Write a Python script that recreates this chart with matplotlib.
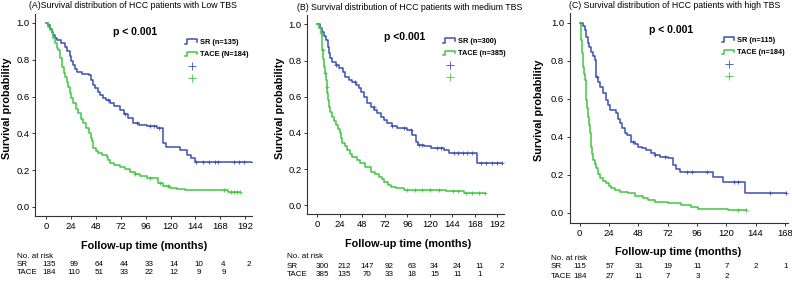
import numpy as np
import matplotlib.pyplot as plt
from matplotlib.lines import Line2D
from matplotlib.legend_handler import HandlerBase
import matplotlib.transforms as mtransforms

plt.rcParams['font.family'] = ['Liberation Sans', 'DejaVu Sans']

W, H = 792, 281
BLUE = '#3b50b8'
GREEN = '#40c840'

# ---------------- data ----------------
# panel A - low TBS
a_sr_time = [0, 2, 4, 5.5, 7, 8.7, 11, 14, 18, 20, 23, 24.5, 26, 28, 30, 35, 41, 43, 45, 47, 50, 52, 55,
             58, 62, 66, 71, 75, 79, 84, 90, 97, 107, 113, 116, 129, 136, 140, 144, 199]
a_sr_surv = [1.0, 0.99, 0.97, 0.95, 0.935, 0.92, 0.905, 0.89, 0.87, 0.85, 0.82, 0.795, 0.77, 0.75, 0.735,
             0.725, 0.715, 0.69, 0.665, 0.645, 0.625, 0.61, 0.595, 0.58, 0.565, 0.55, 0.527, 0.505, 0.482,
             0.455, 0.445, 0.44, 0.428, 0.346, 0.328, 0.31, 0.283, 0.265, 0.245, 0.245]
a_sr_cens = [60, 76, 88, 100, 104, 109, 145, 151, 157, 163, 166, 181, 186, 191, 199]
a_tace_time = [0, 2, 4, 5.5, 7, 9, 11, 12, 13.5, 15, 17, 18.5, 20, 21.5, 23, 24.5, 26.3, 28.5, 31, 33.5,
               36, 38.5, 41, 43, 44, 45.6, 48, 50.4, 54, 58.5, 60, 61.7, 66, 71, 76, 81, 86, 90.6, 97,
               103.5, 108, 113, 119.5, 126, 134, 175.7, 187]
a_tace_surv = [1.0, 0.98, 0.96, 0.944, 0.917, 0.89, 0.865, 0.853, 0.81, 0.763, 0.73, 0.708, 0.68, 0.65,
               0.618, 0.59, 0.563, 0.535, 0.51, 0.48, 0.455, 0.43, 0.40, 0.375, 0.356, 0.32, 0.305, 0.292,
               0.283, 0.274, 0.255, 0.238, 0.23, 0.22, 0.205, 0.192, 0.178, 0.166, 0.16, 0.157, 0.13,
               0.115, 0.102, 0.097, 0.092, 0.08, 0.08]
a_tace_cens = [86, 100, 110, 118, 172, 178, 181, 184, 187]
a_risk_sr = [135, 99, 64, 44, 33, 14, 10, 4, 2]
a_risk_tace = [184, 110, 51, 33, 22, 12, 9, 9]

# panel B - medium TBS
b_sr_time = [0, 2.5, 5.3, 7, 9, 11, 12.5, 14, 16, 20, 23, 27, 30, 34, 37, 41, 44.5, 47, 50, 53, 57, 60.5,
             64, 67.6, 71, 74.7, 80, 85, 96, 101, 105, 107, 114, 121, 135, 140.5, 170.6, 197]
b_sr_surv = [1.0, 0.98, 0.959, 0.935, 0.913, 0.875, 0.84, 0.815, 0.793, 0.775, 0.757, 0.735, 0.71, 0.695,
             0.683, 0.665, 0.646, 0.625, 0.60, 0.563, 0.545, 0.527, 0.508, 0.49, 0.47, 0.453, 0.44, 0.425,
             0.416, 0.388, 0.351, 0.333, 0.325, 0.315, 0.306, 0.287, 0.235, 0.235]
b_sr_cens = [20, 40, 60, 80, 92, 100, 108, 112, 128, 132, 146, 150, 155, 160, 165, 174, 180, 186, 192, 197]
b_tace_time = [0, 2, 3.6, 4.5, 5.3, 6.2, 7.1, 8, 8.9, 9.8, 10.7, 11.6, 12.5, 14, 16, 18, 19.6, 22, 24.2,
               25.5, 26.7, 29, 32, 35, 37.3, 42, 46, 51, 57, 61, 66, 68.5, 71, 75, 78.3, 84, 89, 92.6,
               137, 156.5, 179]
b_tace_surv = [1.0, 0.98, 0.95, 0.905, 0.858, 0.81, 0.766, 0.73, 0.692, 0.655, 0.619, 0.58, 0.545, 0.515,
               0.49, 0.465, 0.444, 0.42, 0.398, 0.37, 0.343, 0.325, 0.306, 0.285, 0.269, 0.25, 0.232, 0.21,
               0.186, 0.172, 0.158, 0.145, 0.13, 0.115, 0.103, 0.097, 0.094, 0.085, 0.078, 0.066, 0.066]
b_tace_cens = [4, 6, 8, 10, 96, 104, 112, 120, 130, 145, 150, 158, 165, 172, 179]
b_risk_sr = [300, 212, 147, 92, 63, 34, 24, 11, 2]
b_risk_tace = [385, 135, 70, 33, 18, 15, 11, 1]

# panel C - high TBS
c_sr_time = [0, 2.7, 4.1, 5.5, 6.8, 8, 9.5, 11, 12.3, 13.6, 15, 16.4, 19, 21.8, 23, 24.6, 30, 31.5, 32.8,
             35, 36.9, 39, 42.3, 45, 47.7, 51, 54.5, 58, 61.4, 66, 72.3, 76.4, 79, 81.9, 109.2, 117.4,
             135.6, 169]
c_sr_surv = [1.0, 0.985, 0.962, 0.925, 0.892, 0.87, 0.847, 0.825, 0.804, 0.716, 0.69, 0.663, 0.63, 0.593,
             0.565, 0.54, 0.523, 0.495, 0.47, 0.445, 0.418, 0.408, 0.374, 0.36, 0.347, 0.338, 0.33, 0.315,
             0.304, 0.295, 0.286, 0.251, 0.232, 0.216, 0.19, 0.163, 0.105, 0.105]
c_sr_cens = [14, 44, 62, 70, 88, 92, 104, 126, 130, 156, 169]
c_tace_time = [0, 0.8, 1.3, 2, 2.7, 3.4, 4.1, 4.8, 5.4, 6.1, 6.8, 7.5, 8.2, 9, 10, 10.9, 12.2, 13.6, 15,
               16.4, 19, 21.8, 24, 25.9, 29, 32.8, 39.6, 45, 51.8, 56, 61.4, 72, 83.2, 91.4, 96.9, 121.5,
               136.5]
c_tace_surv = [1.0, 0.95, 0.909, 0.84, 0.768, 0.73, 0.698, 0.645, 0.593, 0.55, 0.505, 0.46, 0.418, 0.347,
               0.31, 0.277, 0.255, 0.234, 0.205, 0.181, 0.168, 0.155, 0.14, 0.128, 0.12, 0.11, 0.102, 0.09,
               0.076, 0.068, 0.058, 0.05, 0.04, 0.032, 0.02, 0.014, 0.014]
c_tace_cens = [130, 136]
c_risk_sr = [115, 57, 31, 19, 11, 7, 2, 1]
c_risk_tace = [184, 27, 11, 7, 3, 2]

titles = ['(A)Survival distribution of HCC patients with Low TBS',
          '(B) Survival distribution of HCC patients with medium TBS',
          '(C) Survival distribution of HCC patients with high TBS']
pvals = ['p < 0.001', 'p <0.001', 'p < 0.001']
sr_labels = ['SR (n=135)', 'SR (n=300)', 'SR (n=115)']
tace_labels = ['TACE (N=184)', 'TACE (n=385)', 'TACE (n=184)']


class StepHandler(HandlerBase):
    # little step glyph like the SPSS legend
    def create_artists(self, legend, orig_handle, xdescent, ydescent, width, height, fontsize, trans):
        xs = np.array([0, 0.12, 0.12, 0.88, 0.88]) * width - xdescent
        ys = np.array([0.05, 0.05, 0.95, 0.95, 0.45]) * height - ydescent
        ln = Line2D(xs, ys, color=orig_handle.get_color(), lw=1.1, transform=trans)
        return [ln]


def fx(x):
    return x / W


def fy(y):
    return 1 - y / H


def surv_at(times, surv, t):
    idx = np.searchsorted(times, t, side='right') - 1
    return np.array(surv)[idx]


fig = plt.figure(figsize=(W / 100, H / 100), dpi=100)

panels = [
    dict(box=(35, 13.8, 252, 216), xlim=(-10.6, 198.5), ylim=(-0.049, 1.05), xmax=192,
         sr=(a_sr_time, a_sr_surv, a_sr_cens), tace=(a_tace_time, a_tace_surv, a_tace_cens),
         risk=(a_risk_sr, a_risk_tace), risk_x=17, risk_y=(257, 265, 273), risk_off=3,
         title_xy=(133, 5), p_xy=(135, 32), leg_xy=(185, 39), xlab_xy=(144, 246), ylab_xy=(7, 108)),
    dict(box=(307, 15.3, 504, 214), xlim=(-11, 199), ylim=(-0.048, 1.05), xmax=192,
         sr=(b_sr_time, b_sr_surv, b_sr_cens), tace=(b_tace_time, b_tace_surv, b_tace_cens),
         risk=(b_risk_sr, b_risk_tace), risk_x=287, risk_y=(257, 266, 275), risk_off=5,
         title_xy=(410, 7), p_xy=(405, 37), leg_xy=(443, 38), xlab_xy=(408, 244), ylab_xy=(280, 108)),
    dict(box=(569.7, 13.2, 788, 223.3), xlim=(-8.2, 170.6), ylim=(-0.056, 1.05), xmax=168,
         sr=(c_sr_time, c_sr_surv, c_sr_cens), tace=(c_tace_time, c_tace_surv, c_tace_cens),
         risk=(c_risk_sr, c_risk_tace), risk_x=551, risk_y=(258, 267, 276), risk_off=0.5,
         title_xy=(675, 5), p_xy=(671, 30), leg_xy=(722, 37), xlab_xy=(678, 252), ylab_xy=(539, 110)),
]

for i, p in enumerate(panels):
    l, t, r, b = p['box']
    ax = fig.add_axes([fx(l), fy(b), fx(r) - fx(l), fy(t) - fy(b)])

    handles = []
    for (tm, sv, cens), col in [(p['sr'], BLUE), (p['tace'], GREEN)]:
        ln, = ax.step(tm, sv, where='post', color=col, lw=1.1)
        handles.append(ln)
        ax.plot(cens, surv_at(tm, sv, cens), ls='none', marker='+', ms=3, mew=0.6, color=col)

    ax.set_xlim(*p['xlim'])
    ax.set_ylim(*p['ylim'])
    ax.set_xticks(np.arange(0, p['xmax'] + 1, 24))
    ax.set_yticks(np.arange(0, 1.01, 0.2))
    ax.set_yticklabels(['%.1f' % v for v in np.arange(0, 1.01, 0.2)])
    for s in ['top', 'right']:
        ax.spines[s].set_visible(False)
    for s in ['left', 'bottom']:
        ax.spines[s].set_linewidth(0.8)
        ax.spines[s].set_color('#333333')
    ax.tick_params(length=2.5, width=0.7, labelsize=6.8, pad=1.5, color='#333333')

    ax.set_xlabel('Follow-up time (months)', fontsize=7.8, fontweight='bold')
    ax.xaxis.set_label_coords(fx(p['xlab_xy'][0]), fy(p['xlab_xy'][1]), transform=fig.transFigure)
    ax.xaxis.label.set_va('center')
    ax.set_ylabel('Survival probability', fontsize=7.8, fontweight='bold')
    ax.yaxis.set_label_coords(fx(p['ylab_xy'][0]), fy(p['ylab_xy'][1]), transform=fig.transFigure)
    ax.yaxis.label.set_va('center')

    fig.text(fx(p['title_xy'][0]), fy(p['title_xy'][1]), titles[i], ha='center', va='center', fontsize=6.3)
    fig.text(fx(p['p_xy'][0]), fy(p['p_xy'][1]), pvals[i], ha='center', va='center',
             fontsize=7.5, fontweight='bold')

    cross_sr = Line2D([], [], ls='none', marker='+', ms=6, mew=0.6, color=BLUE)
    cross_tace = Line2D([], [], ls='none', marker='+', ms=6, mew=0.6, color=GREEN)
    ax.legend(handles + [cross_sr, cross_tace], [sr_labels[i], tace_labels[i], '', ''],
              loc='upper left', bbox_to_anchor=(fx(p['leg_xy'][0]), fy(p['leg_xy'][1])),
              bbox_transform=fig.transFigure, frameon=False, prop={'weight': 'bold', 'size': 5.3},
              handlelength=1.9, handletextpad=0.15, labelspacing=0.7, borderpad=0, borderaxespad=0,
              numpoints=1, handler_map={handles[0]: StepHandler(), handles[1]: StepHandler()})

    # number at risk table
    trans = mtransforms.blended_transform_factory(ax.transData, fig.transFigure)
    ry = p['risk_y']
    fig.text(fx(p['risk_x']), fy(ry[0]), 'No. at risk', fontsize=5.8, va='center')
    fig.text(fx(p['risk_x']), fy(ry[1]), 'SR', fontsize=5.8, va='center')
    fig.text(fx(p['risk_x']), fy(ry[2]), 'TACE', fontsize=5.8, va='center')
    for row, yy in zip(p['risk'], ry[1:]):
        for k, n in enumerate(row):
            ax.text(k * 24 + p['risk_off'], fy(yy), str(n), transform=trans, ha='center', va='center',
                    fontsize=5.8, clip_on=False)

fig.savefig('out.png', dpi=100, facecolor='white')
